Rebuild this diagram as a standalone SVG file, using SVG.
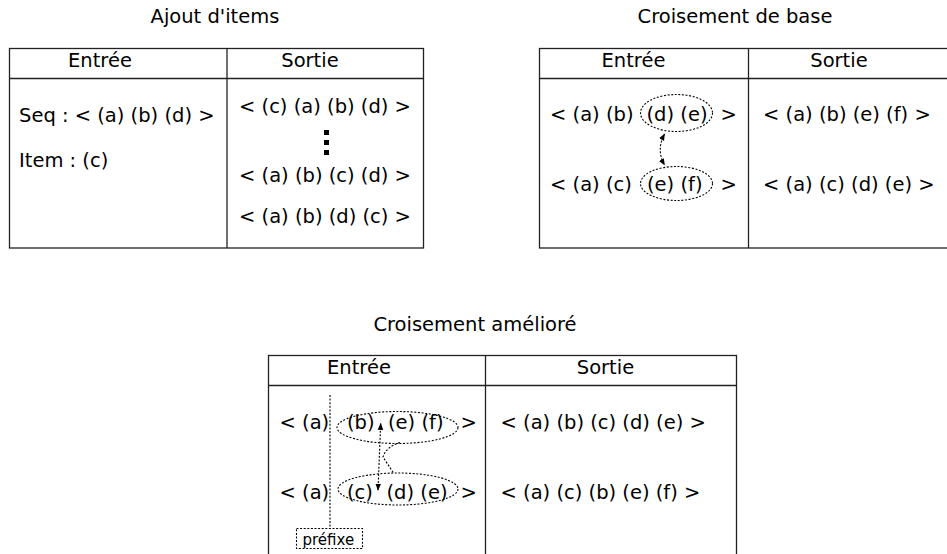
<svg xmlns="http://www.w3.org/2000/svg" width="947" height="554" viewBox="0 0 947 554">
<style>
text{font-family:"DejaVu Sans","Liberation Sans",sans-serif;font-size:19.5px;fill:#000}
.c{text-anchor:middle}
.tb{fill:none;stroke:#222;stroke-width:1.3}
.dot{fill:none;stroke:#000;stroke-width:1.1;stroke-dasharray:2,1.6}
.sm{font-size:15px}
</style>
<defs>
<marker id="ah" viewBox="0 0 10 10" refX="9" refY="5" markerWidth="7" markerHeight="7" orient="auto-start-reverse" markerUnits="userSpaceOnUse">
<path d="M0,1 L10,5 L0,9 z" fill="#000"/>
</marker>
</defs>
<rect width="947" height="554" fill="#fff"/>

<g id="ajout">
<text class="c" x="215" y="23">Ajout d'items</text>
<rect class="tb" x="9.5" y="48.5" width="414" height="199.5"/>
<line class="tb" x1="9.5" y1="78.5" x2="423.5" y2="78.5"/>
<line class="tb" x1="227" y1="48.5" x2="227" y2="248"/>
<text class="c" x="100" y="67">Entrée</text>
<text class="c" x="310" y="67">Sortie</text>
<text x="19" y="122">Seq : &lt; (a) (b) (d) &gt;</text>
<text x="19" y="167">Item : (c)</text>
<text x="239" y="113">&lt; (c) (a) (b) (d) &gt;</text>
<rect x="324" y="130" width="5" height="5" fill="#000"/>
<rect x="324" y="140" width="5" height="5" fill="#000"/>
<rect x="324" y="150" width="5" height="5" fill="#000"/>
<text x="239" y="182">&lt; (a) (b) (c) (d) &gt;</text>
<text x="239" y="222.5">&lt; (a) (b) (d) (c) &gt;</text>
</g>

<g id="base">
<text class="c" x="735" y="23">Croisement de base</text>
<rect class="tb" x="539.5" y="48.5" width="410" height="199.5"/>
<line class="tb" x1="539.5" y1="78.5" x2="947" y2="78.5"/>
<line class="tb" x1="748.5" y1="48.5" x2="748.5" y2="248"/>
<text class="c" x="633.5" y="67">Entrée</text>
<text class="c" x="839" y="67">Sortie</text>
<text x="550" y="121">&lt; (a) (b)</text>
<ellipse class="dot" cx="676.5" cy="113" rx="36" ry="18.5"/>
<text x="646.5" y="121">(d) (e)</text>
<text x="720.5" y="121">&gt;</text>
<text x="550" y="191">&lt; (a) (c)</text>
<ellipse class="dot" cx="676.5" cy="183.5" rx="36" ry="17"/>
<text x="647" y="191">(e) (f)</text>
<text x="720.5" y="191">&gt;</text>
<text x="763" y="121">&lt; (a) (b) (e) (f) &gt;</text>
<text x="763" y="191">&lt; (a) (c) (d) (e) &gt;</text>
</g>

<g id="ameliore">
<text class="c" x="475" y="331">Croisement amélioré</text>
<rect class="tb" x="268.5" y="355.5" width="468" height="210"/>
<line class="tb" x1="268.5" y1="385.5" x2="736.5" y2="385.5"/>
<line class="tb" x1="485.5" y1="355.5" x2="485.5" y2="554"/>
<text class="c" x="359" y="374">Entrée</text>
<text class="c" x="605.5" y="374">Sortie</text>
<line class="dot" x1="330" y1="395" x2="330" y2="528"/>
<text x="279.5" y="428.5">&lt; (a)</text>
<ellipse class="dot" cx="397.5" cy="427.5" rx="60.5" ry="16"/>
<text x="347" y="428.5">(b)</text>
<text x="388" y="428.5">(e) (f)</text>
<text x="460.5" y="428.5">&gt;</text>
<text x="279.5" y="498.5">&lt; (a)</text>
<ellipse class="dot" cx="398" cy="489" rx="60" ry="16"/>
<text x="347" y="498.5">(c)</text>
<text x="386.5" y="498.5">(d) (e)</text>
<text x="460.5" y="498.5">&gt;</text>
<text x="500.5" y="428.5">&lt; (a) (b) (c) (d) (e) &gt;</text>
<text x="500.5" y="498.5">&lt; (a) (c) (b) (e) (f) &gt;</text>
<rect class="dot" x="296.5" y="528.5" width="66" height="20"/>
<text class="sm" x="302.5" y="544.5">préfixe</text>
</g>

<g id="connectors">
<path class="dot" d="M664.5,134 Q656,150 664.5,165" marker-start="url(#ah)" marker-end="url(#ah)"/>
<path class="dot" d="M380.7,423.5 L378,490" marker-start="url(#ah)" marker-end="url(#ah)"/>
<path class="dot" d="M400,442.5 Q386,447 383,457 L393.5,473"/>
</g>
</svg>
